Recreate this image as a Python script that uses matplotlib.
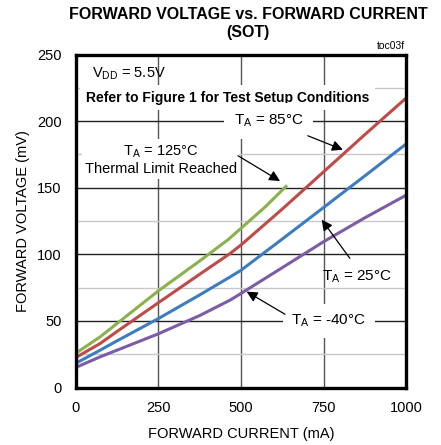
import matplotlib
matplotlib.use("Agg")
import matplotlib.pyplot as plt
from matplotlib.ticker import MultipleLocator

plt.rcParams['font.family'] = ['Liberation Sans', 'DejaVu Sans']
plt.rcParams['mathtext.fontset'] = 'custom'
plt.rcParams['mathtext.rm'] = 'Liberation Sans'

# data (mA, mV)
i_125 = [0, 74, 125, 250, 375, 461, 500, 575, 636]
v_125 = [25.6, 38, 48, 72.5, 95, 111, 119.5, 136, 151]

i_85 = [0, 74, 125, 250, 375, 467, 500, 625, 750, 875, 1000]
v_85 = [22.4, 33, 42, 63.6, 85, 100.6, 107, 134, 162, 190, 217.5]

i_25 = [0, 74, 125, 250, 375, 467, 500, 625, 750, 875, 1000]
v_25 = [18.1, 28, 35, 51.7, 69.5, 83, 88, 111.5, 135.2, 159, 183]

i_m40 = [0, 74, 125, 250, 375, 467, 500, 625, 750, 875, 1000]
v_m40 = [15, 23, 28, 40.3, 54, 65.6, 70.6, 90, 109.5, 127.5, 144.5]

fig = plt.figure(figsize=(4.41, 4.45), dpi=100)
ax = fig.add_axes([0.1714, 0.1292, 0.7501, 0.7483])

ax.plot(i_125, v_125, color='#8AB14C', lw=2.2, zorder=3)
ax.plot(i_85, v_85, color='#BE4B48', lw=2.2, zorder=3)
ax.plot(i_25, v_25, color='#3C7DC0', lw=2.2, zorder=3)
ax.plot(i_m40, v_m40, color='#7B5CA6', lw=2.2, zorder=3)

ax.set_xlim(0, 1000)
ax.set_ylim(0, 250)
ax.xaxis.set_major_locator(MultipleLocator(250))
ax.yaxis.set_major_locator(MultipleLocator(50))
ax.yaxis.set_minor_locator(MultipleLocator(25))
ax.grid(True, which='major', axis='y', color='#222222', lw=1.0, zorder=1)
ax.grid(True, which='minor', axis='y', color='#c8c8c8', lw=1.0, zorder=1)
ax.grid(True, which='major', axis='x', color='#555555', lw=1.0, zorder=1)
ax.tick_params(which='both', length=0, labelsize=10.5, pad=10)
for s in ax.spines.values():
    s.set_linewidth(2.4)
    s.set_zorder(5)

ax.set_xlabel('FORWARD CURRENT (mA)', fontsize=10.5, labelpad=8)
ax.set_ylabel('FORWARD VOLTAGE (mV)', fontsize=10.5, labelpad=5)
fig.suptitle('FORWARD VOLTAGE vs. FORWARD CURRENT\n(SOT)', fontsize=11.5,
             fontweight='bold', x=0.563, y=0.985, linespacing=1.25)
fig.text(0.918, 0.889, 'toc03f', fontsize=7.5, ha='right')

box = dict(facecolor='white', edgecolor='none', pad=1.5)
ax.text(50, 236, r'V$_{\mathrm{DD}}$ = 5.5V', fontsize=10.5, va='center', zorder=4)
ax.text(459, 217.5, 'Refer to Figure 1 for Test Setup Conditions', fontsize=10,
        fontweight='bold', ha='center', va='center',
        bbox=dict(facecolor='white', edgecolor='none', pad=4), zorder=4)
ax.text(583, 200, r'T$_{\mathrm{A}}$ = 85°C', fontsize=11, ha='center', va='center',
        bbox=dict(facecolor='white', edgecolor='none', pad=7), zorder=4)
ax.text(257, 171, 'T$_{\\mathrm{A}}$ = 125°C\nThermal Limit Reached', fontsize=10.5,
        ha='center', va='center', bbox=box, zorder=4, linespacing=1.25)
ax.text(852, 83, r'T$_{\mathrm{A}}$ = 25°C', fontsize=11, ha='center', va='center', zorder=4)
ax.text(765, 50, r'T$_{\mathrm{A}}$ = -40°C', fontsize=11, ha='center', va='center',
        bbox=dict(facecolor='white', edgecolor='none', pad=6), zorder=4)

arrow = dict(arrowstyle='-|>', color='black', lw=0.9, mutation_scale=16, shrinkA=0, shrinkB=0)
ax.annotate('', xy=(808, 178.5), xytext=(702, 189), arrowprops=arrow, zorder=4)
ax.annotate('', xy=(618, 155), xytext=(491, 174), arrowprops=arrow, zorder=4)
ax.annotate('', xy=(744, 126), xytext=(829, 97), arrowprops=arrow, zorder=4)
ax.annotate('', xy=(517, 72), xytext=(633, 55), arrowprops=arrow, zorder=4)

fig.savefig('out.png', dpi=100)
